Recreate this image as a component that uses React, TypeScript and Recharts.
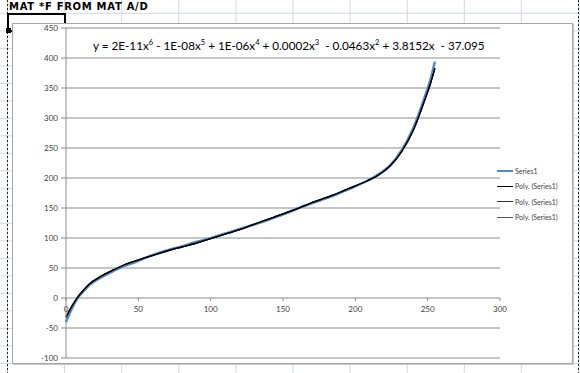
import { LineChart, Line, XAxis, YAxis, CartesianGrid } from "recharts";

// A/D counts and temperatures
const adcValues = [0, 4, 8, 12, 16, 24, 32, 40, 48, 56, 64, 72, 80, 88, 96, 104, 112, 120, 128, 136, 144, 152, 160, 168, 176, 184, 192, 200, 208, 216, 224, 232, 240, 248, 252, 255];
const series1Values = [-40, -18, 0, 11, 21, 34, 44, 53, 60, 68, 75, 81, 86, 92, 97, 103, 109, 115, 121, 127, 134, 141, 149, 156, 163, 170, 178, 186, 195, 206, 221, 246, 283, 335, 365, 394];
const polyValues = [-32, -14, 1, 13, 23, 36, 46, 55, 62, 68, 74, 80, 85, 90, 96, 102, 108, 114, 121, 128, 135, 142, 149, 157, 164, 171, 179, 187, 195, 205, 220, 244, 279, 330, 358, 383];

const xTicks = [0, 50, 100, 150, 200, 250, 300];
const yTicks = [-100, -50, 0, 50, 100, 150, 200, 250, 300, 350, 400, 450];

const legendItems = [
  { label: "Series1", color: "#4f8ad0", width: 2.5 },
  { label: "Poly. (Series1)", color: "#000000", width: 1.3 },
  { label: "Poly. (Series1)", color: "#333333", width: 1.3 },
  { label: "Poly. (Series1)", color: "#555555", width: 1.3 },
];

const data = adcValues.map((x, i) => ({ x, s1: series1Values[i], poly: polyValues[i] }));

const W = 559;
const H = 339;
const MARGIN = { top: 4, right: 72, bottom: 0, left: 0 };
const Y_AXIS_W = 53;
const X_AXIS_H = 5;
const PLOT_H = H - MARGIN.top - MARGIN.bottom - X_AXIS_H;
const Y_MIN = -100;
const Y_MAX = 450;
const ZERO_Y = MARGIN.top + (PLOT_H * Y_MAX) / (Y_MAX - Y_MIN);

const GRID = "#8c8c8c";
const TICK_FONT = "Lato, 'Open Sans', sans-serif";

function XTick(props: any) {
  const { x, payload } = props;
  return (
    <g>
      <line x1={x} x2={x} y1={ZERO_Y} y2={ZERO_Y + 3} stroke={GRID} />
      <text x={x} y={ZERO_Y + 13.5} textAnchor="middle" fontSize={8} fill="#404040" fontFamily={TICK_FONT}>
        {payload.value}
      </text>
    </g>
  );
}

const cols = Array.from({ length: 11 }, (_, i) => 7.5 + i * 57.1);
const rows = Array.from({ length: 23 }, (_, i) => -4.2 + i * 17.5);

const sup = { fontSize: "0.65em" };

export default function App() {
  return (
    <div style={{ position: "absolute", left: 0, top: 0, width: 580, height: 373, background: "#fff", overflow: "hidden" }}>
      <svg width={580} height={373} style={{ position: "absolute", left: 0, top: 0 }}>
        {cols.map((c) => (
          <line key={"c" + c} x1={c} x2={c} y1={0} y2={373} stroke="#d0d7e5" />
        ))}
        {rows.map((r) => (
          <line key={"r" + r} x1={0} x2={580} y1={r} y2={r} stroke="#d0d7e5" />
        ))}
        <line x1={7.5} x2={7.5} y1={0} y2={373} stroke="#222" strokeDasharray="2 2" />
        <line x1={578.5} x2={578.5} y1={0} y2={373} stroke="#222" strokeDasharray="2 2" />
        <rect x={8} y={14} width={57} height={17} fill="none" stroke="#000" strokeWidth={2} />
        <rect x={6} y={28} width={5} height={5} fill="#000" />
      </svg>

      <div
        style={{
          position: "absolute",
          left: 9,
          top: 0,
          fontFamily: "'DejaVu Sans', sans-serif",
          fontWeight: "bold",
          fontSize: 10,
          letterSpacing: 0.7,
          lineHeight: "14px",
          color: "#000",
        }}
      >
        MAT *F FROM MAT A/D
      </div>

      <div
        style={{
          position: "absolute",
          left: 12,
          top: 23,
          width: W,
          height: H,
          border: "1px solid #a6a6a6",
          boxShadow: "1px 1px 0 #c8c8c8",
          background: "#fff",
        }}
      >
        <LineChart width={W} height={H} data={data} margin={MARGIN}>
          <CartesianGrid horizontal vertical={false} stroke={GRID} />
          <XAxis
            dataKey="x"
            type="number"
            domain={[0, 300]}
            ticks={xTicks}
            interval={0}
            axisLine={false}
            tickLine={false}
            height={X_AXIS_H}
            tick={<XTick />}
          />
          <YAxis
            type="number"
            domain={[Y_MIN, Y_MAX]}
            ticks={yTicks}
            interval={0}
            width={Y_AXIS_W}
            axisLine={{ stroke: GRID }}
            tickLine={{ stroke: GRID }}
            tickSize={5}
            tickMargin={3}
            tick={{ fontSize: 8, fill: "#404040", fontFamily: TICK_FONT }}
          />
          <Line type="monotone" dataKey="s1" stroke="#4f8ad0" strokeWidth={2.5} dot={false} isAnimationActive={false} />
          <Line type="monotone" dataKey="poly" stroke="#555555" strokeWidth={1.3} dot={false} isAnimationActive={false} />
          <Line type="monotone" dataKey="poly" stroke="#333333" strokeWidth={1.3} dot={false} isAnimationActive={false} />
          <Line type="monotone" dataKey="poly" stroke="#000000" strokeWidth={1.3} dot={false} isAnimationActive={false} />
        </LineChart>

        <div
          style={{
            position: "absolute",
            left: 80,
            top: 10,
            fontFamily: TICK_FONT,
            fontSize: 11.7,
            color: "#000",
            whiteSpace: "pre",
            lineHeight: "16px",
          }}
        >
          y = 2E-11x<sup style={sup}>6</sup> - 1E-08x<sup style={sup}>5</sup> + 1E-06x<sup style={sup}>4</sup> + 0.0002x
          <sup style={sup}>3</sup>  - 0.0463x<sup style={sup}>2</sup> + 3.8152x  - 37.095
        </div>

        <div style={{ position: "absolute", left: 484, top: 139 }}>
          {legendItems.map((item, i) => (
            <div key={i} style={{ display: "flex", alignItems: "center", height: 15.5 }}>
              <div style={{ width: 16, height: item.width, background: item.color }} />
              <span style={{ marginLeft: 2, fontFamily: TICK_FONT, fontSize: 7, color: "#404040" }}>{item.label}</span>
            </div>
          ))}
        </div>
      </div>
    </div>
  );
}
